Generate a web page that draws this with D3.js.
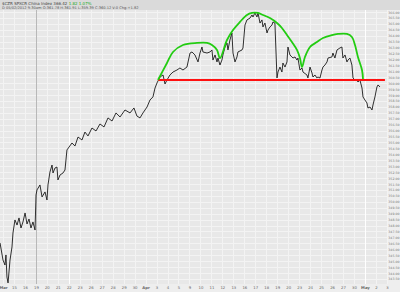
<!DOCTYPE html>
<html>
<head>
<meta charset="utf-8">
<script src="https://cdn.jsdelivr.net/npm/d3@7"></script>
<style>
  body { margin: 0; background: #efefef; }
  text { font-family: "DejaVu Sans", sans-serif; }
</style>
</head>
<body>
<div id="chart"></div>
<script>
// values
var dayLabels = ["Mar","15","16","19","20","21","22","23","26","27","28","29","30",
  "Apr","3","4","5","9","10","11","12","13","16","17","18","19","20","23","24","25","26","27","30",
  "May","2","3"]

var priceTicks = d3.range(0, 46).map(function(i) { return 366 - i * 0.5 })

// time in trading days since Mar 14, price
var days = [-0.27,0.00,0.18,0.27,0.36,0.46,0.64,0.82,0.91,1.09,1.28,1.46,1.64,1.82,2.01,2.19,2.37,2.55,2.73,2.92,
  3.01,3.10,3.37,3.56,3.83,4.01,4.10,4.28,4.47,4.56,4.74,4.92,5.01,5.20,5.47,5.65,5.83,6.29,6.56,6.84,
  7.20,7.47,7.75,8.11,8.48,8.84,9.21,9.57,9.94,10.30,10.67,11.12,11.58,11.94,12.21,12.49,12.76,13.13,13.40,13.67,
  13.86,14.04,14.31,14.59,14.77,14.95,15.22,15.50,15.86,16.13,16.41,16.77,17.05,17.23,17.50,17.78,17.96,18.14,18.23,18.60,
  18.87,19.05,19.14,19.33,19.51,19.60,19.78,19.96,20.05,20.24,20.42,20.51,20.69,20.87,20.97,21.15,21.33,21.42,21.79,21.88,
  22.06,22.24,22.52,22.70,22.79,22.97,23.15,23.25,23.43,23.61,23.70,23.88,24.07,24.16,24.34,24.52,24.61,24.79,24.98,25.07,
  25.25,25.43,25.52,25.71,25.89,25.98,26.16,26.34,26.44,26.62,26.80,26.89,27.07,27.26,27.35,27.71,27.80,27.99,28.17,28.26,
  28.44,28.62,28.71,28.90,29.08,29.17,29.35,29.54,29.63,29.99,30.08,30.26,30.45,30.72,30.90,30.99,31.18,31.36,31.45,31.63,
  31.81,31.91,32.09,32.27,32.36,32.54,32.73,32.82,33.00,33.18,33.27,33.46,33.64,33.73,33.91,34.09,34.19,34.37]
var prices = [346.53,345.09,344.67,345.52,343.66,343.16,345.09,346.19,347.37,348.47,348.04,348.64,347.79,348.30,349.06,348.13,348.55,347.79,348.30,347.62,
  350.57,351.00,351.42,350.41,350.83,350.15,351.42,352.51,353.10,352.43,352.85,352.93,351.84,352.26,352.43,352.68,354.37,354.96,354.70,355.46,
  355.21,355.88,355.55,356.22,355.97,356.56,356.31,357.07,356.81,357.49,357.15,357.74,357.49,357.91,357.23,357.07,357.49,357.99,358.58,358.84,
  359.59,360.02,360.52,360.69,359.93,360.27,360.69,360.94,361.11,361.28,361.11,361.36,362.54,362.63,362.38,361.79,362.54,363.05,362.63,362.54,
  362.63,362.80,361.95,362.38,361.79,362.12,361.53,361.95,362.38,363.05,363.39,362.80,363.64,364.23,362.54,361.79,362.21,362.63,362.80,362.97,
  364.90,365.33,365.49,365.75,365.58,365.92,365.58,365.92,365.07,365.33,364.74,365.07,364.23,364.48,364.74,364.90,365.16,365.07,360.44,360.94,
  361.36,360.94,361.70,361.36,361.79,363.05,362.38,362.21,362.12,362.21,361.95,362.12,361.11,361.28,360.94,360.69,360.44,361.36,360.86,360.52,
  360.69,360.44,360.52,360.44,361.11,361.36,361.53,361.79,362.12,362.21,362.54,362.12,362.80,362.97,363.05,362.12,362.38,361.79,361.95,362.12,
  361.53,360.44,360.27,360.27,360.10,360.27,359.59,358.84,358.58,358.33,357.91,357.99,357.74,358.16,358.84,359.68,359.85,359.68]

// hand drawn annotation
var humpDays = [14.13,14.95,15.50,16.41,17.69,18.60,19.05,19.51,19.78,20.42,20.97,21.60,22.24,22.70,23.25,23.70,24.34,24.98,25.43,25.89,
  26.34,26.80,27.07,27.26,27.53,27.99,28.62,29.17,29.99,30.54,31.36,31.81,32.09,32.36,32.73,32.82]
var humpPrices = [360.27,361.70,362.63,363.22,363.39,363.39,363.22,362.80,362.12,363.64,364.48,365.16,365.75,365.92,365.92,365.75,365.49,365.07,364.65,364.06,
  363.47,362.80,362.12,361.36,362.21,363.05,363.47,363.81,364.06,364.15,364.15,363.89,363.22,362.21,361.11,360.35]
var neckline = {from: 14.13, to: 34.82, price: 360.27}

var W = 400, H = 292
var plot = {left: 0, right: 388, top: 10, bottom: 284}

var svg = d3.select("#chart").append("svg")
    .attr("width", W)
    .attr("height", H)

svg.append("rect").attr("width", W).attr("height", H).attr("fill", "#eeeeee")
svg.append("rect").attr("width", W).attr("height", 10).attr("fill", "#dadada")

var x = d3.scaleLinear().domain([-0.2735, 35.1]).range([plot.left, plot.right])
var y = d3.scaleLinear().domain([343.5, 366]).range([278.9, 12])

svg.append("rect")
    .attr("x", plot.left).attr("y", plot.top)
    .attr("width", plot.right - plot.left).attr("height", plot.bottom - plot.top)
    .attr("fill", "#e8e8e8")

svg.append("clipPath").attr("id", "clip")
  .append("rect")
    .attr("x", plot.left).attr("y", plot.top)
    .attr("width", plot.right - plot.left).attr("height", plot.bottom - plot.top)

// grid
var grid = svg.append("g")
grid.selectAll(".hg")
    .data(priceTicks)
  .enter().append("line")
    .attr("x1", plot.left).attr("x2", plot.right)
    .attr("y1", function(d) { return Math.round(y(d)) + 0.5 })
    .attr("y2", function(d) { return Math.round(y(d)) + 0.5 })
    .attr("stroke", "#f3f3f3")
    .attr("stroke-width", 1)
grid.selectAll(".vg")
    .data(dayLabels)
  .enter().append("line")
    .attr("x1", function(d, i) { return Math.round(x(i)) + 0.5 })
    .attr("x2", function(d, i) { return Math.round(x(i)) + 0.5 })
    .attr("y1", plot.top).attr("y2", plot.bottom)
    .attr("stroke", function(d, i) { return (i == 6 || i == 33) ? "#ffffff" : "#f3f3f3" })
    .attr("stroke-width", 1)
// marker line
grid.append("line")
    .attr("x1", Math.round(x(3)) + 0.5).attr("x2", Math.round(x(3)) + 0.5)
    .attr("y1", plot.top).attr("y2", plot.bottom)
    .attr("stroke", "#b8b8b8")

// right axis
var yAxis = d3.axisRight(y)
    .tickValues(priceTicks)
    .tickSize(0)
    .tickFormat(d3.format(".2f"))
var ya = svg.append("g")
    .attr("transform", "translate(" + (W - 0.5) + ",0)")
    .call(yAxis)
ya.select(".domain").remove()
ya.selectAll("text").attr("x", 0).attr("text-anchor", "end")
    .attr("fill", "#777").style("font-size", "3.2px")

// bottom axis
var xAxis = d3.axisBottom(x)
    .tickValues(d3.range(dayLabels.length))
    .tickSize(0)
    .tickFormat(function(d) { return dayLabels[d] })
var xa = svg.append("g")
    .attr("transform", "translate(0," + (plot.bottom + 1) + ")")
    .call(xAxis)
xa.select(".domain").remove()
xa.selectAll("text").attr("y", 1).attr("fill", "#666").style("font-size", "3.8px")
    .style("font-weight", function(d) { return isNaN(+dayLabels[d]) ? "bold" : "normal" })

// price series
var series = days.map(function(d, i) { return [d, prices[i]] })
var line = d3.line()
    .x(function(d) { return x(d[0]) })
    .y(function(d) { return y(d[1]) })

var g = svg.append("g").attr("clip-path", "url(#clip)")
g.append("path")
    .datum(series)
    .attr("d", line)
    .attr("fill", "none")
    .attr("stroke", "#1a1a1a")
    .attr("stroke-width", 0.9)

// neckline
g.append("line")
    .attr("x1", x(neckline.from)).attr("x2", x(neckline.to))
    .attr("y1", y(neckline.price)).attr("y2", y(neckline.price))
    .attr("stroke", "#ff1010")
    .attr("stroke-width", 2)

// humps
g.append("path")
    .datum(humpDays.map(function(d, i) { return [d, humpPrices[i]] }))
    .attr("d", line.curve(d3.curveCatmullRom))
    .attr("fill", "none")
    .attr("stroke", "#22cc11")
    .attr("stroke-width", 1.8)

// header
svg.append("text").attr("x", 2).attr("y", 4.5)
    .style("font-size", "4px").attr("fill", "#444")
    .text("$CZR SPXCR China Index   366.42 ")
  .append("tspan").attr("fill", "#22aa22").text(" 1.82  1.07%")
svg.append("text").attr("x", 2).attr("y", 9)
    .style("font-size", "3.6px").attr("fill", "#555")
    .text("D 05/02/2012     9:30am  O:361.78  H:361.91  L:359.39  C:360.12  V:0  Chg:+1.82")
</script>
</body>
</html>
